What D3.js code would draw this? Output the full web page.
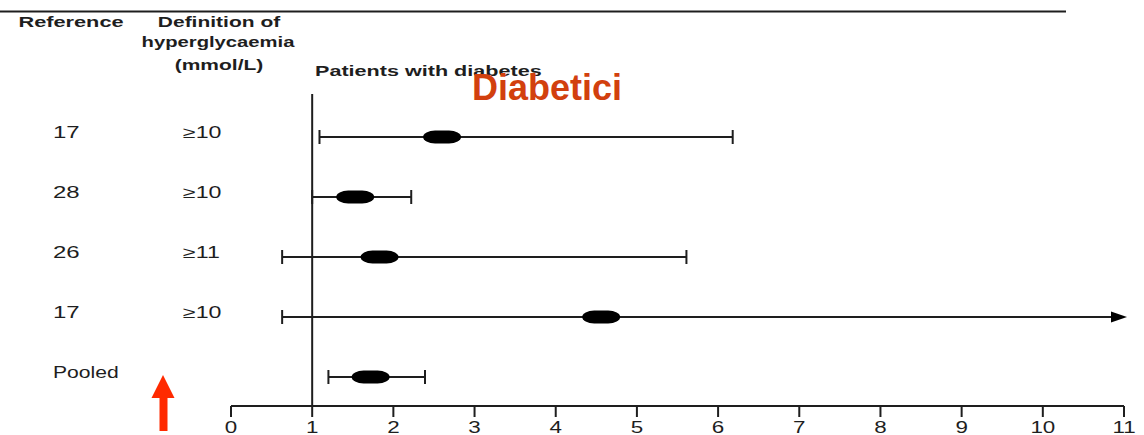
<!DOCTYPE html>
<html>
<head>
<meta charset="utf-8">
<script src="https://cdn.jsdelivr.net/npm/d3@7"></script>
<style>
  body { margin: 0; background: #fff; }
  svg { display: block; }
</style>
</head>
<body>
<svg id="chart" width="1144" height="435"></svg>
<script>
// study rows, top to bottom
const refs = ["17", "28", "26", "17", "Pooled"];
const defs = ["\u226510", "\u226510", "\u226511", "\u226510", ""];
const est = [2.6, 1.53, 1.83, 4.56, 1.72];
const lo = [1.09, 1.0, 0.63, 0.63, 1.2];
const hi = [6.18, 2.22, 5.61, 11, 2.39];
const ticks = [0, 1, 2, 3, 4, 5, 6, 7, 8, 9, 10, 11];

const width = 1144, height = 435;
const ink = '#1e1e1e', sx = 1.4;

const svg = d3.select('#chart');

const x = d3.scaleLinear().domain([0, 11]).range([231, 1124]);
const y = d3.scalePoint().domain(d3.range(refs.length)).range([137, 377]);
const axisY = 406;

// text is stretched sideways like the scanned original
function label(txt, px, py, opts) {
    opts = opts || {};
    return svg.append('text')
        .attr('transform', `translate(${px},${py}) scale(${opts.sx || sx},1)`)
        .attr('text-anchor', opts.anchor || 'start')
        .attr('font-family', 'Liberation Sans, Arial, sans-serif')
        .attr('font-size', opts.size || 15)
        .attr('font-weight', opts.bold ? 'bold' : 'normal')
        .attr('fill', opts.fill || ink)
        .text(txt);
}

// top rule
svg.append('line')
    .attr('x1', 0).attr('x2', 1066)
    .attr('y1', 11.5).attr('y2', 11.5)
    .attr('stroke', ink).attr('stroke-width', 2);

// headers
label('Reference', 71, 27, {bold: true, anchor: 'middle', sx: 1.45});
label('Definition of', 219, 27, {bold: true, anchor: 'middle'});
label('hyperglycaemia', 218, 47, {bold: true, anchor: 'middle', sx: 1.35});
label('(mmol/L)', 219, 70, {bold: true, anchor: 'middle'});
label('Patients with diabetes', 315, 76, {bold: true, sx: 1.44});

// row labels
refs.forEach((r, i) => label(r, 53, y(i) + 1, i < 4 ? {size: 16, sx: 1.5} : {size: 16, sx: 1.32}));
defs.forEach((d, i) => { if (d) label(d, 183, y(i) + 1, {size: 16, sx: 1.45}); });

// x axis
const axis = svg.append('g').attr('transform', `translate(0,${axisY})`);
axis.append('line')
    .attr('x1', x(0)).attr('x2', x(11))
    .attr('stroke', ink).attr('stroke-width', 2);
axis.selectAll('.tick').data(ticks).enter().append('line')
    .attr('x1', d => x(d)).attr('x2', d => x(d))
    .attr('y1', 0).attr('y2', 11)
    .attr('stroke', ink).attr('stroke-width', 2);
ticks.forEach(t => label(String(t), x(t), axisY + 27, {anchor: 'middle', size: 16, sx: 1.4}));

// line of no effect
svg.append('line')
    .attr('x1', x(1)).attr('x2', x(1))
    .attr('y1', 94).attr('y2', axisY)
    .attr('stroke', ink).attr('stroke-width', 2);

// intervals
const rows = svg.selectAll('.row').data(refs.map((r, i) => i)).enter()
    .append('g').attr('class', 'row')
    .attr('transform', i => `translate(0,${y(i)})`);

rows.append('line')
    .attr('x1', i => x(lo[i]))
    .attr('x2', i => hi[i] >= 11 ? x(hi[i]) - 10 : x(hi[i]))
    .attr('stroke', ink).attr('stroke-width', 2);

rows.append('line')
    .attr('x1', i => x(lo[i])).attr('x2', i => x(lo[i]))
    .attr('y1', -7).attr('y2', 7)
    .attr('stroke', ink).attr('stroke-width', 2);

rows.filter(i => hi[i] < 11).append('line')
    .attr('x1', i => x(hi[i])).attr('x2', i => x(hi[i]))
    .attr('y1', -7).attr('y2', 7)
    .attr('stroke', ink).attr('stroke-width', 2);

// truncated interval gets an arrow head
rows.filter(i => hi[i] >= 11).append('path')
    .attr('d', i => `M${x(hi[i]) - 13},-5.5 L${x(hi[i]) + 3},0 L${x(hi[i]) - 13},5.5 Z`)
    .attr('fill', '#000');

rows.append('rect')
    .attr('x', i => x(est[i]) - 19).attr('y', -6.5)
    .attr('width', 38).attr('height', 13)
    .attr('rx', 12).attr('ry', 6.5)
    .attr('fill', '#000');

// overlay annotation
svg.append('text')
    .attr('x', 472).attr('y', 100)
    .attr('font-family', 'Liberation Sans, Arial, sans-serif')
    .attr('font-size', 36).attr('font-weight', 'bold')
    .attr('fill', '#d2400e')
    .text('Diabetici');

// red up arrow
svg.append('path')
    .attr('d', 'M163,375 L174.5,398 L167.5,398 L167.5,431 L159.5,431 L159.5,398 L151.5,398 Z')
    .attr('fill', '#ff2a00');
</script>
</body>
</html>
